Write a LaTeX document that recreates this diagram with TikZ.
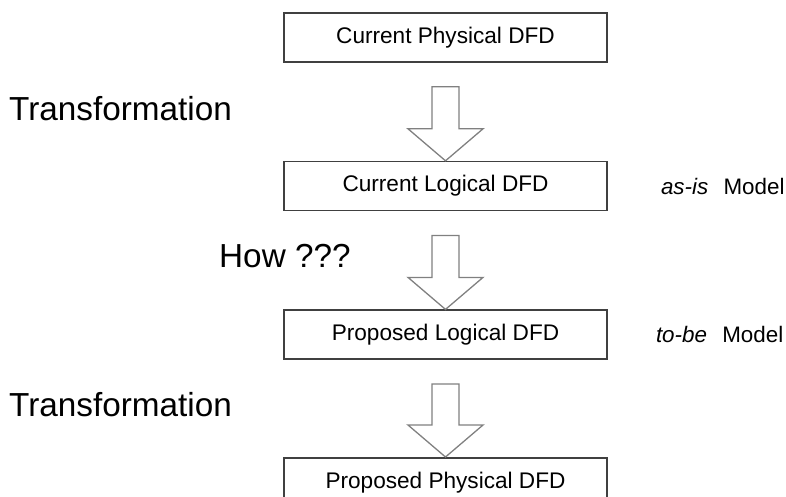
\documentclass[tikz,border=0pt]{standalone}
\usepackage{fontspec}
\setmainfont{Liberation Sans}
\usetikzlibrary{positioning,calc}
\tikzset{
  dfdbox/.style={draw=black!75, line width=1.6pt, minimum width=323pt, minimum height=49pt,
    inner sep=0pt, font=\fontsize{22.6}{26}\selectfont},
  sidelabel/.style={inner sep=0pt, font=\fontsize{33.3}{38}\selectfont},
  modellabel/.style={inner sep=0pt, font=\fontsize{22.4}{26}\selectfont},
  flowarrow/.style={draw=black!50, line width=1.3pt, line join=miter}
}
\newcommand{\hollowarrow}[2]{%
  \draw[flowarrow] let \p1=(#1.south), \p2=(#2.north) in
    (\x2-13.5pt,\y1-24pt) -- (\x2+13.5pt,\y1-24pt) -- (\x2+13.5pt,\y2+32pt)
    -- (\x2+37.5pt,\y2+32pt) -- (\x2,\y2) -- (\x2-37.5pt,\y2+32pt)
    -- (\x2-13.5pt,\y2+32pt) -- cycle;}
\begin{document}
\begin{tikzpicture}[x=1pt,y=-1pt]
\useasboundingbox (0,0) rectangle (786,497);
\clip (0,0) rectangle (786,497);
% the four DFD boxes
\node[dfdbox] (cpd) at (445.5,37.5) {Current Physical DFD};
\node[dfdbox, below=98pt of cpd] (cld) {Current Logical DFD};
\node[dfdbox, below=98pt of cld] (pld) {Proposed Logical DFD};
\node[dfdbox, below=97pt of pld] (ppd) {Proposed Physical DFD};
% hollow arrows between them
\hollowarrow{cpd}{cld}
\hollowarrow{cld}{pld}
\hollowarrow{pld}{ppd}
% labels on the left
\node[sidelabel, anchor=base west] (trA) at (9,121) {Transformation};
\node[sidelabel, anchor=base west] (how) at (219,267) {How ???};
\node[sidelabel, anchor=base west] (trB) at (9,416) {Transformation};
% model labels on the right
\node[modellabel, right=53pt of cld] (asis) {\textit{as-is}\hspace{9pt} Model};
\node[modellabel, right=48pt of pld] (tobe) {\textit{to-be}\hspace{9pt} Model};
\end{tikzpicture}
\end{document}
